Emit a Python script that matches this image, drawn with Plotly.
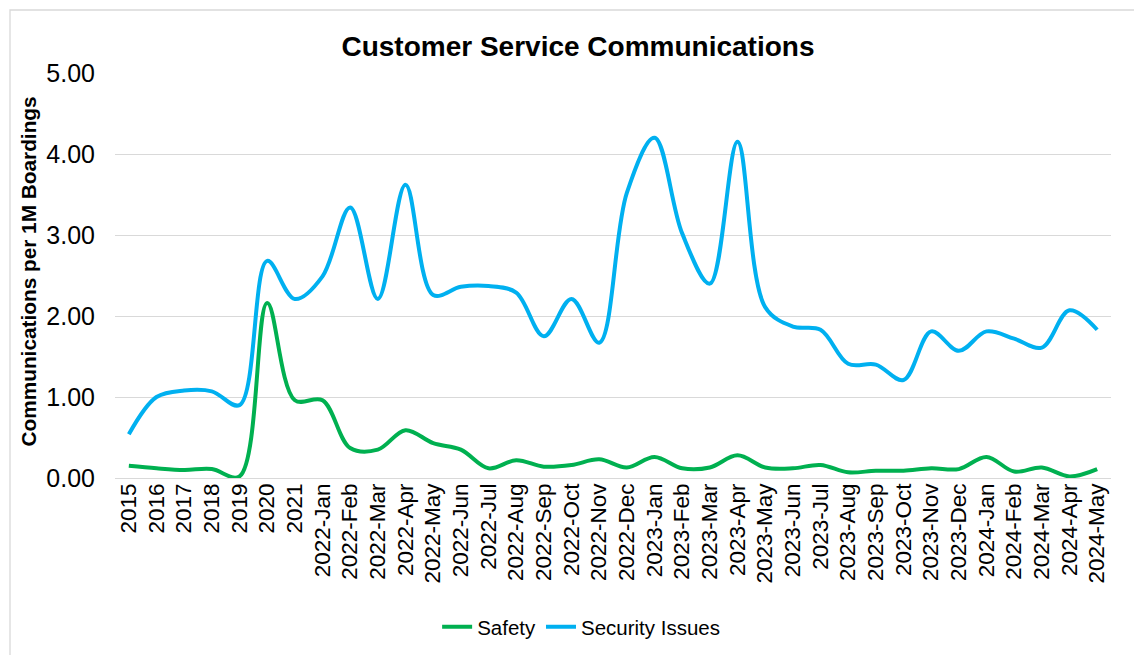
import plotly.graph_objects as go

# Categories: annual values first, then monthly values
periods = [
    "2015", "2016", "2017", "2018", "2019", "2020", "2021",
    "2022-Jan", "2022-Feb", "2022-Mar", "2022-Apr", "2022-May", "2022-Jun",
    "2022-Jul", "2022-Aug", "2022-Sep", "2022-Oct", "2022-Nov", "2022-Dec",
    "2023-Jan", "2023-Feb", "2023-Mar", "2023-Apr", "2023-May", "2023-Jun",
    "2023-Jul", "2023-Aug", "2023-Sep", "2023-Oct", "2023-Nov", "2023-Dec",
    "2024-Jan", "2024-Feb", "2024-Mar", "2024-Apr", "2024-May",
]

safety = [
    0.15, 0.12, 0.10, 0.11, 0.02, 2.16, 0.96,
    0.96, 0.37, 0.35, 0.59, 0.43, 0.35,
    0.12, 0.22, 0.14, 0.16, 0.23, 0.13,
    0.26, 0.12, 0.13, 0.28, 0.13, 0.12,
    0.16, 0.07, 0.09, 0.09, 0.12, 0.11,
    0.26, 0.08, 0.13, 0.02, 0.11,
]

security_issues = [
    0.54, 1.00, 1.08, 1.07, 0.90, 2.68, 2.21,
    2.49, 3.34, 2.21, 3.62, 2.26, 2.36,
    2.37, 2.29, 1.75, 2.21, 1.67, 3.52,
    4.20, 3.02, 2.40, 4.15, 2.11, 1.87,
    1.83, 1.41, 1.40, 1.21, 1.81, 1.57,
    1.81, 1.72, 1.61, 2.07, 1.83,
]

y_ticks = [0, 1, 2, 3, 4, 5]
y_tick_text = ["0.00", "1.00", "2.00", "3.00", "4.00", "5.00"]

FONT = "Liberation Sans, Arial, sans-serif"
GRID = "#D9D9D9"

fig = go.Figure()
fig.add_trace(go.Scatter(
    x=periods, y=safety, name="Safety", mode="lines",
    line=dict(color="#00B050", width=4, shape="spline", smoothing=1.0),
))
fig.add_trace(go.Scatter(
    x=periods, y=security_issues, name="Security Issues", mode="lines",
    line=dict(color="#00B0F0", width=4, shape="spline", smoothing=1.0),
))

fig.update_layout(
    width=1134, height=655,
    margin=dict(l=115, r=23, t=73, b=177, autoexpand=False),
    paper_bgcolor="white", plot_bgcolor="white",
    font=dict(family=FONT, color="black"),
    showlegend=True,
    legend=dict(
        orientation="h", x=0.468, xanchor="center", y=-0.368, yanchor="middle",
        font=dict(size=20.5, family=FONT), bgcolor="rgba(0,0,0,0)",
        itemwidth=30,
    ),
    title=dict(
        text="<b>Customer Service Communications</b>",
        x=0.5097, xanchor="center", y=0.93, yanchor="middle",
        font=dict(size=28, family=FONT, color="black"),
    ),
)

fig.update_xaxes(
    type="category", range=[-0.5, len(periods) - 0.5],
    tickangle=-90, tickfont=dict(size=22.5, family=FONT),
    showgrid=False, showline=False, ticks="", ticklen=0, automargin=False,
)
fig.update_yaxes(
    range=[0, 5], tickvals=y_ticks, ticktext=y_tick_text,
    tickfont=dict(size=25, family=FONT),
    showgrid=True, gridcolor=GRID, gridwidth=1.3,
    zeroline=True, zerolinecolor=GRID, zerolinewidth=1.3,
    showline=False, ticks="", ticklabelstandoff=19, automargin=False,
)

# Vertical axis title
fig.add_annotation(
    text="<b>Communications per 1M Boardings</b>", textangle=-90,
    xref="paper", yref="paper", x=-0.0873, y=0.51,
    xanchor="center", yanchor="middle", showarrow=False,
    font=dict(size=20.8, family=FONT, color="black"),
)

# Light chart-area border
fig.add_shape(
    type="rect", xref="paper", yref="paper",
    x0=(10 - 115) / 996, x1=(1140 - 115) / 996,
    y0=(478 - 662) / 405, y1=(478 - 10) / 405,
    line=dict(color=GRID, width=1.3), fillcolor="rgba(0,0,0,0)", layer="below",
)

fig.write_html("out.html")
